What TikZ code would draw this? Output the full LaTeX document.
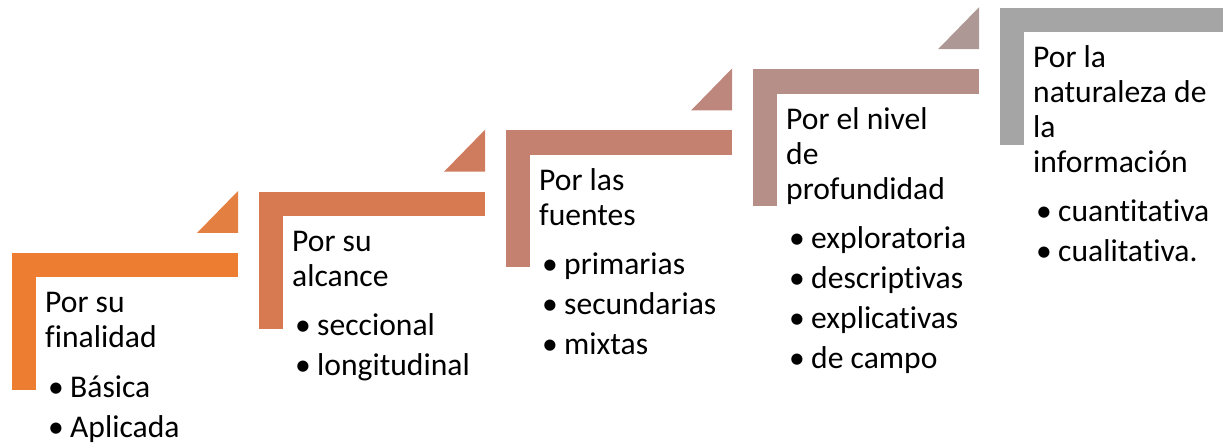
\documentclass[tikz,border=0pt]{standalone}
\usepackage{fontspec}
\setmainfont{Carlito}[Ligatures=NoCommon]
\definecolor{sA}{HTML}{ED7D31}
\definecolor{tA}{HTML}{E47F42}
\definecolor{sB}{HTML}{D77A52}
\definecolor{tB}{HTML}{CF7C5E}
\definecolor{sC}{HTML}{C58170}
\definecolor{tC}{HTML}{BE877D}
\definecolor{sD}{HTML}{B58F88}
\definecolor{tD}{HTML}{AE9896}
\definecolor{sE}{HTML}{A5A5A5}
\tikzset{
  hd/.style={anchor=base west,inner sep=0pt,font=\fontsize{31.6}{35}\selectfont},
  bl/.style={anchor=base west,inner sep=0pt,font=\fontsize{31.6}{35}\selectfont},
}
\newcommand{\stepL}[3]{% x, y, colour
  \fill[#3] (#1,#2) rectangle ++(226,24.5);
  \fill[#3] (#1,#2) rectangle ++(24,137);
}
\newcommand{\stepT}[3]{% x, y, colour (triangle above-right of step)
  \fill[#3] (#1+185,#2-20) -- (#1+226,#2-20) -- (#1+226,#2-62) -- cycle;
}
\newcommand{\bitem}[1]{\makebox[22pt][l]{•}#1}
\begin{document}
\begin{tikzpicture}[x=1pt,y=-1pt]
\useasboundingbox (0,0) rectangle (1223,443);
\begin{scope}
\clip (0,0) rectangle (1223,443);
\stepL{12}{253}{sA}
\stepT{12}{253}{tA}
\stepL{259}{191.75}{sB}
\stepT{259}{191.75}{tB}
\stepL{506}{130.5}{sC}
\stepT{506}{130.5}{tC}
\stepL{753}{69.25}{sD}
\stepT{753}{69.25}{tD}
\stepL{1000}{8}{sE}
\end{scope}
% step 1
\node[hd] (a1) at (45,313) {Por su};
\node[hd] (a2) at (45,348) {finalidad};
\node[bl] (ab1) at (48,397) {\bitem{Básica}};
\node[bl] (ab2) at (48,437) {\bitem{Aplicada}};
% step 2
\node[hd] (b1) at (292,251.75) {Por su};
\node[hd] (b2) at (292,286.75) {alcance};
\node[bl] (bb1) at (295,335.75) {\bitem{seccional}};
\node[bl] (bb2) at (295,375.75) {\bitem{longitudinal}};
% step 3
\node[hd] (c1) at (539,190.5) {Por las};
\node[hd] (c2) at (539,225.5) {fuentes};
\node[bl] (cb1) at (542,274.5) {\bitem{primarias}};
\node[bl] (cb2) at (542,314.5) {\bitem{secundarias}};
\node[bl] (cb3) at (542,354.5) {\bitem{mixtas}};
% step 4
\node[hd] (d1) at (786,129.25) {Por el nivel};
\node[hd] (d2) at (786,164.25) {de};
\node[hd] (d3) at (786,199.25) {profundidad};
\node[bl] (db1) at (789,248.25) {\bitem{exploratoria}};
\node[bl] (db2) at (789,288.25) {\bitem{descriptivas}};
\node[bl] (db3) at (789,328.25) {\bitem{explicativas}};
\node[bl] (db4) at (789,368.25) {\bitem{de campo}};
% step 5
\node[hd] (e1) at (1033,68) {Por la};
\node[hd] (e2) at (1033,103) {naturaleza de};
\node[hd] (e3) at (1033,138) {la};
\node[hd] (e4) at (1033,173) {información};
\node[bl] (eb1) at (1036,222) {\bitem{cuantitativa}};
\node[bl] (eb2) at (1036,262) {\bitem{cualitativa.}};
\end{tikzpicture}
\end{document}
